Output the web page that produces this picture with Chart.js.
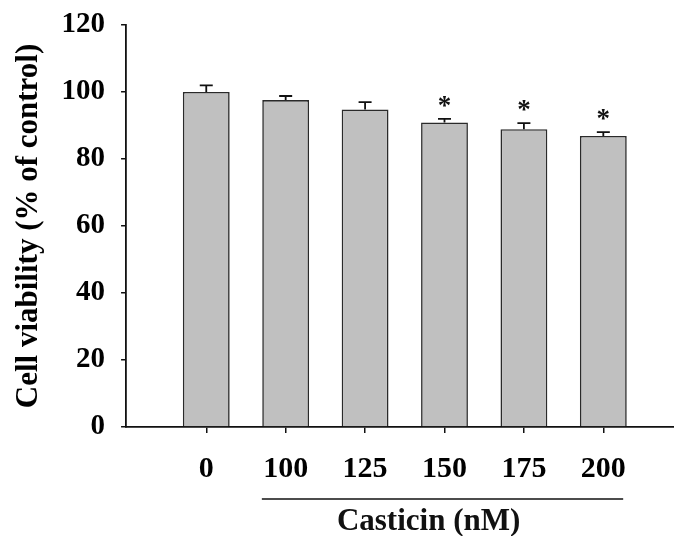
<!DOCTYPE html>
<html>
<head>
<meta charset="utf-8">
<script src="https://cdn.jsdelivr.net/npm/chart.js@4"></script>
<style>
  body { margin: 0; background: #fff; }
  #wrap { width: 674px; height: 536px; }
</style>
</head>
<body>
<div id="wrap"><canvas id="chart" width="674" height="536"></canvas></div>
<script>
// data
const doses = ["0", "100", "125", "150", "175", "200"];
const viability = [100, 97.6, 94.8, 90.9, 88.9, 86.9];
const sem = [2.0, 1.2, 2.2, 1.1, 1.8, 1.1];
const significant = [false, false, false, true, true, true];
const yTicks = [0, 20, 40, 60, 80, 100, 120];

const serif = "'Liberation Serif', 'Times New Roman', serif";

// error bars, asterisks and the "Casticin (nM)" bracket
const extras = {
  id: "extras",
  afterDatasetsDraw(chart) {
    const { ctx, scales: { x, y } } = chart;
    ctx.save();
    ctx.strokeStyle = "#111";
    ctx.fillStyle = "#111";
    ctx.lineWidth = 1.8;
    ctx.font = "bold 27px " + serif;
    ctx.textAlign = "center";
    ctx.textBaseline = "alphabetic";
    viability.forEach((v, i) => {
      const cx = x.getPixelForValue(i);
      const base = y.getPixelForValue(v);
      const top = y.getPixelForValue(v + sem[i]);
      ctx.beginPath();
      ctx.moveTo(cx, base);
      ctx.lineTo(cx, top);
      ctx.moveTo(cx - 6.5, top);
      ctx.lineTo(cx + 6.5, top);
      ctx.stroke();
      if (significant[i]) ctx.fillText("*", cx, top - 5);
    });

    // bracket under the treated doses
    const x1 = x.getPixelForValue(0.7);
    const x2 = x.getPixelForValue(5.25);
    ctx.lineWidth = 1.5;
    ctx.beginPath();
    ctx.moveTo(x1, 499);
    ctx.lineTo(x2, 499);
    ctx.stroke();
    ctx.font = "bold 31px " + serif;
    ctx.fillText("Casticin (nM)", x.getPixelForValue(2.8), 530);
    ctx.restore();
  }
};

new Chart(document.getElementById("chart"), {
  type: "bar",
  data: {
    datasets: [{
      data: viability.map((v, i) => ({ x: i, y: v })),
      backgroundColor: "rgb(192,192,192)",
      borderColor: "#2a2a2a",
      borderWidth: 1.6,
      categoryPercentage: 1,
      barPercentage: 0.59
    }]
  },
  options: {
    responsive: false,
    animation: false,
    devicePixelRatio: 1,
    layout: { padding: { left: 11, right: 0, top: 25, bottom: 31 } },
    plugins: { legend: { display: false }, tooltip: { enabled: false } },
    scales: {
      x: {
        type: "linear",
        offset: false,
        min: -1.01,
        max: 5.89,
        afterBuildTicks: (scale) => { scale.ticks = doses.map((_, i) => ({ value: i })); },
        ticks: {
          callback: (v) => doses[v],
          color: "#000",
          padding: 18,
          font: { family: serif, size: 30, weight: "bold" }
        },
        grid: { offset: false, drawOnChartArea: false, tickLength: 6, color: "#111", lineWidth: 1.5 },
        border: { color: "#111", width: 1.8 }
      },
      y: {
        min: 0,
        max: 120,
        afterBuildTicks: (scale) => { scale.ticks = yTicks.map((v) => ({ value: v })); },
        ticks: {
          color: "#000",
          padding: 16,
          font: { family: serif, size: 29, weight: "bold", lineHeight: 0.5 }
        },
        grid: { drawOnChartArea: false, tickLength: 5, color: "#111", lineWidth: 1.5 },
        border: { color: "#111", width: 1.8 },
        title: {
          display: true,
          text: "Cell viability (% of control)",
          color: "#000",
          padding: { top: 2, bottom: 0 },
          font: { family: serif, size: 31, weight: "bold", lineHeight: 1.05 }
        }
      }
    }
  },
  plugins: [extras]
});
</script>
</body>
</html>
